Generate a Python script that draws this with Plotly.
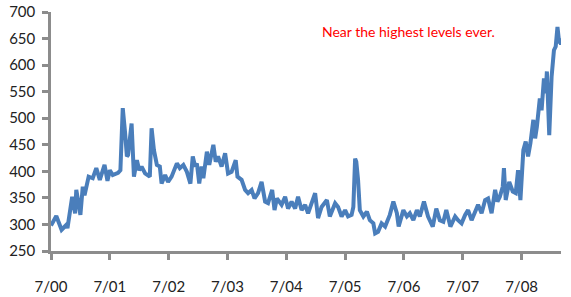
import plotly.graph_objects as go

# time in fractional years (7/00 = 2000.5)
t = [2000.50, 2000.59, 2000.68, 2000.76, 2000.78, 2000.86, 2000.91, 2000.93, 2001.00, 2001.04,
     2001.07, 2001.14, 2001.21, 2001.27, 2001.33, 2001.41, 2001.46, 2001.50, 2001.55, 2001.64,
     2001.68, 2001.72, 2001.76, 2001.79, 2001.81, 2001.87, 2001.91, 2001.96, 2002.00, 2002.04,
     2002.10, 2002.18, 2002.21, 2002.25, 2002.30, 2002.35, 2002.38, 2002.44, 2002.49, 2002.55,
     2002.64, 2002.69, 2002.75, 2002.81, 2002.87, 2002.91, 2002.95, 2002.98, 2003.02, 2003.06,
     2003.09, 2003.15, 2003.19, 2003.26, 2003.30, 2003.34, 2003.40, 2003.46, 2003.51, 2003.57,
     2003.64, 2003.67, 2003.74, 2003.80, 2003.85, 2003.91, 2003.96, 2004.02, 2004.08, 2004.14,
     2004.19, 2004.26, 2004.30, 2004.34, 2004.42, 2004.48, 2004.53, 2004.59, 2004.65, 2004.70,
     2004.76, 2004.82, 2004.87, 2004.93, 2004.99, 2005.04, 2005.10, 2005.19, 2005.24, 2005.33,
     2005.38, 2005.44, 2005.50, 2005.55, 2005.61, 2005.64, 2005.67, 2005.69, 2005.72, 2005.75,
     2005.81, 2005.87, 2005.92, 2005.98, 2006.01, 2006.06, 2006.12, 2006.18, 2006.26, 2006.32,
     2006.38, 2006.41, 2006.49, 2006.55, 2006.60, 2006.66, 2006.72, 2006.77, 2006.84, 2006.91,
     2006.99, 2007.05, 2007.11, 2007.17, 2007.22, 2007.29, 2007.37, 2007.42, 2007.48, 2007.54,
     2007.59, 2007.65, 2007.71, 2007.76, 2007.82, 2007.88, 2007.93, 2007.99, 2008.05, 2008.09,
     2008.13, 2008.18, 2008.20, 2008.23, 2008.29, 2008.35, 2008.40, 2008.44, 2008.48, 2008.53,
     2008.57, 2008.61, 2008.65, 2008.70, 2008.73, 2008.76, 2008.81, 2008.84, 2008.88, 2008.91,
     2008.93, 2008.97, 2009.01, 2009.05, 2009.08, 2009.11, 2009.14, 2009.16, 2009.17]

values = [298, 316, 290, 299, 293, 352, 321, 365, 318, 371,
          355, 390, 387, 406, 384, 412, 382, 402, 393, 397,
          402, 519, 472, 428, 431, 490, 390, 421, 402, 409,
          396, 390, 481, 440, 412, 409, 377, 393, 380, 390,
          415, 406, 412, 399, 377, 428, 409, 415, 377, 409,
          387, 437, 412, 450, 418, 428, 409, 434, 396, 399,
          421, 390, 384, 365, 359, 365, 349, 359, 380, 343,
          340, 365, 327, 349, 337, 352, 330, 343, 330, 352,
          327, 337, 321, 340, 359, 312, 333, 346, 315, 340,
          333, 315, 327, 315, 318, 333, 424, 418, 384, 327,
          315, 324, 308, 302, 283, 286, 302, 296, 318, 343,
          321, 296, 327, 315, 321, 308, 327, 315, 343, 315,
          296, 330, 308, 305, 327, 296, 315, 308, 302, 318,
          327, 308, 324, 337, 321, 346, 349, 321, 365, 343,
          352, 371, 406, 346, 380, 362, 359, 402, 346, 440,
          456, 428, 453, 497, 462, 484, 537, 515, 575, 547,
          588, 468, 578, 628, 635, 672, 641, 650, 638]

tick_vals = [2000.5, 2001.5, 2002.5, 2003.5, 2004.5, 2005.5, 2006.5, 2007.5, 2008.5]
tick_text = ["7/00", "7/01", "7/02", "7/03", "7/04", "7/05", "7/06", "7/07", "7/08"]
y_ticks = [250, 300, 350, 400, 450, 500, 550, 600, 650, 700]

FONT = "Lato, sans-serif"
AXIS = "#8c8c8c"

fig = go.Figure()
fig.add_trace(go.Scatter(x=t, y=values, mode="lines",
                         line=dict(color="#4a7ebb", width=4),
                         showlegend=False))

fig.update_layout(
    width=571, height=297,
    margin=dict(l=51, r=10, t=12, b=46, autoexpand=False),
    paper_bgcolor="white", plot_bgcolor="white",
    font=dict(family=FONT, size=15, color="#222222"),
    xaxis=dict(range=[2000.5, 2009.17], tickmode="array", tickvals=tick_vals,
               ticktext=tick_text, showgrid=False, zeroline=False, automargin=False,
               showline=True, linecolor=AXIS, linewidth=2.5,
               ticks="outside", ticklen=6, tickwidth=2.5, tickcolor=AXIS,
               ticklabelstandoff=14),
    yaxis=dict(range=[250, 700], tickmode="array", tickvals=y_ticks,
               showgrid=False, zeroline=False, automargin=False,
               showline=True, linecolor=AXIS, linewidth=2.5,
               ticks="outside", ticklen=6, tickwidth=2.5, tickcolor=AXIS,
               ticklabelstandoff=4, ticklabeloverflow="allow"),
    annotations=[dict(text="Near the highest levels ever.", xref="paper", yref="paper",
                      x=0.70, y=0.92, xanchor="center", yanchor="middle",
                      showarrow=False,
                      font=dict(family=FONT, size=14, color="#ff0000"))],
)

fig.write_html("out.html",
               config={"displayModeBar": False},
               post_script="document.body.style.margin='0';document.body.style.overflow='hidden';")
